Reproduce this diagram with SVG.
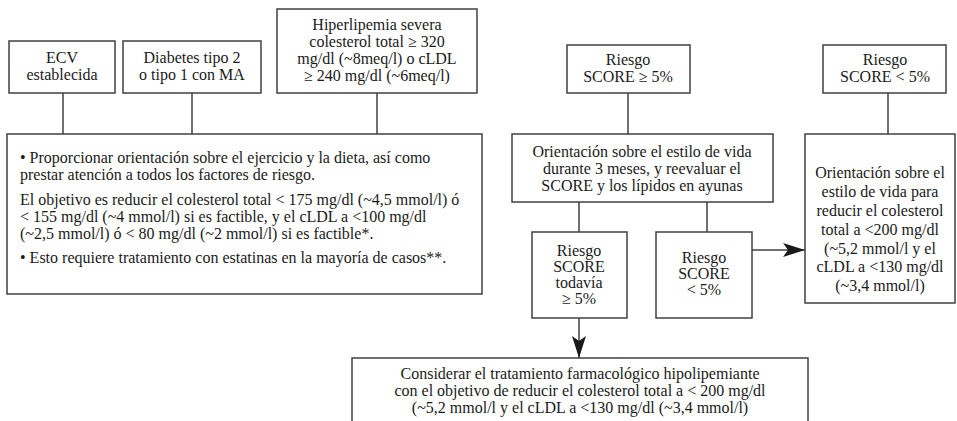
<svg xmlns="http://www.w3.org/2000/svg" width="957" height="421" viewBox="0 0 957 421">
<defs>
<style>
.box{fill:#fff;stroke:#404040;stroke-width:1.5}
.ln{fill:none;stroke:#404040;stroke-width:1.5}
text{font-family:"Liberation Serif","Times New Roman",serif;font-size:16px;fill:#1a1a1a}
.c{text-anchor:middle}
</style>
<marker id="ah" viewBox="0 0 22 14" refX="22" refY="7" markerWidth="22" markerHeight="14" markerUnits="userSpaceOnUse" orient="auto">
<path d="M0,0 L22,7 L0,14 L5,7 Z" fill="#1a1a1a"/>
</marker>
</defs>
<g id="connectors">
<line class="ln" x1="63" y1="93" x2="63" y2="134"/>
<line class="ln" x1="192" y1="93" x2="192" y2="134"/>
<line class="ln" x1="377" y1="93" x2="377" y2="134"/>
<line class="ln" x1="628" y1="93" x2="628" y2="134"/>
<line class="ln" x1="888" y1="93" x2="888" y2="134"/>
<line class="ln" x1="579" y1="202" x2="579" y2="232"/>
<line class="ln" x1="707" y1="202" x2="707" y2="232"/>
<line class="ln" x1="752" y1="250" x2="805" y2="250" marker-end="url(#ah)"/>
<line class="ln" x1="579" y1="318" x2="579" y2="358" marker-end="url(#ah)"/>
</g>
<g id="ecv">
<rect class="box" x="9" y="41" width="106" height="52"/>
<text class="c" x="62" y="63">ECV</text>
<text class="c" x="62" y="80">establecida</text>
</g>
<g id="diabetes">
<rect class="box" x="123" y="41" width="138" height="52"/>
<text class="c" x="192" y="63">Diabetes tipo 2</text>
<text class="c" x="192" y="80">o tipo 1 con MA</text>
</g>
<g id="hiperlipemia">
<rect class="box" x="277" y="9" width="200" height="84"/>
<text class="c" x="377" y="30">Hiperlipemia severa</text>
<text class="c" x="377" y="47">colesterol total ≥ 320</text>
<text class="c" x="377" y="64">mg/dl (~8meq/l) o cLDL</text>
<text class="c" x="377" y="81">≥ 240 mg/dl (~6meq/l)</text>
</g>
<g id="objetivos">
<rect class="box" x="7" y="134" width="475" height="160"/>
<text x="20" y="163">•  Proporcionar orientación sobre el ejercicio y la dieta, así como</text>
<text x="20" y="180">prestar atención a todos los factores de riesgo.</text>
<text x="20" y="205">El objetivo es reducir el colesterol total &lt; 175 mg/dl (~4,5 mmol/l) ó</text>
<text x="20" y="222">&lt; 155 mg/dl (~4 mmol/l) si es factible, y el cLDL a &lt;100 mg/dl</text>
<text x="20" y="239">(~2,5 mmol/l) ó &lt; 80 mg/dl (~2 mmol/l) si es factible*.</text>
<text x="20" y="263">• Esto requiere tratamiento con estatinas en la mayoría de casos**.</text>
</g>
<g id="riesgo-alto">
<rect class="box" x="567" y="45" width="123" height="48"/>
<text class="c" x="628" y="65">Riesgo</text>
<text class="c" x="628" y="82">SCORE ≥ 5%</text>
</g>
<g id="riesgo-bajo">
<rect class="box" x="823" y="45" width="123" height="48"/>
<text class="c" x="885" y="65">Riesgo</text>
<text class="c" x="885" y="82">SCORE &lt; 5%</text>
</g>
<g id="orientacion">
<rect class="box" x="512" y="134" width="261" height="68"/>
<text class="c" x="642" y="157">Orientación sobre el estilo de vida</text>
<text class="c" x="642" y="174">durante 3 meses, y reevaluar el</text>
<text class="c" x="642" y="191">SCORE y los lípidos en ayunas</text>
</g>
<g id="todavia">
<rect class="box" x="532" y="232" width="95" height="86"/>
<text class="c" x="579" y="256">Riesgo</text>
<text class="c" x="579" y="272">SCORE</text>
<text class="c" x="579" y="288">todavía</text>
<text class="c" x="579" y="304">≥ 5%</text>
</g>
<g id="menor">
<rect class="box" x="656" y="232" width="96" height="86"/>
<text class="c" x="704" y="263">Riesgo</text>
<text class="c" x="704" y="279">SCORE</text>
<text class="c" x="704" y="295">&lt; 5%</text>
</g>
<g id="orientacion-bajo">
<rect class="box" x="805" y="134" width="150" height="169"/>
<text class="c" x="880" y="178">Orientación sobre el</text>
<text class="c" x="880" y="197">estilo de vida para</text>
<text class="c" x="880" y="216">reducir el colesterol</text>
<text class="c" x="880" y="235">total a &lt;200 mg/dl</text>
<text class="c" x="880" y="254">(~5,2 mmol/l y el</text>
<text class="c" x="880" y="272">cLDL a &lt;130 mg/dl</text>
<text class="c" x="880" y="291">(~3,4 mmol/l)</text>
</g>
<g id="tratamiento">
<rect class="box" x="352" y="358" width="456" height="80"/>
<text class="c" x="580" y="379">Considerar el tratamiento farmacológico hipolipemiante</text>
<text class="c" x="580" y="396">con el objetivo de reducir el colesterol total a &lt; 200 mg/dl</text>
<text class="c" x="580" y="413">(~5,2 mmol/l y el cLDL a &lt;130 mg/dl (~3,4 mmol/l)</text>
</g>
</svg>
